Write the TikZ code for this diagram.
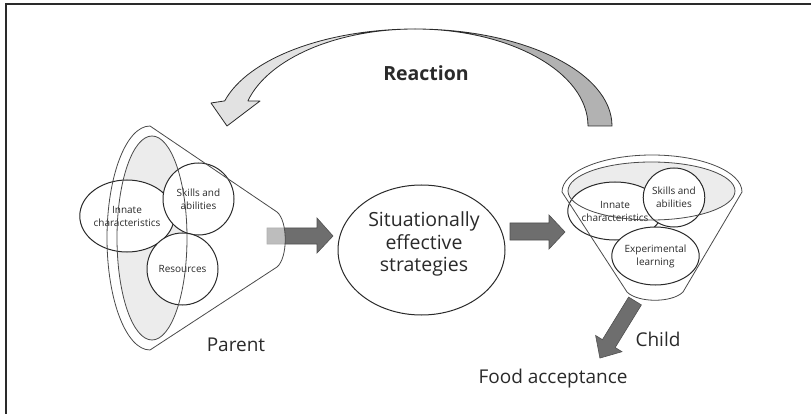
\documentclass[tikz,border=0pt]{standalone}
\usepackage{fontspec}
\setmainfont{Open Sans}
\usetikzlibrary{shapes.geometric}
\pgfdeclarelayer{edgelayer}
\pgfdeclarelayer{nodelayer}
\pgfsetlayers{edgelayer,nodelayer,main}
\definecolor{ink}{HTML}{2A2A2A}
\definecolor{rimgray}{HTML}{4A4A4A}
\definecolor{softgray}{HTML}{ECECEC}
\definecolor{arrowgray}{HTML}{6E6E6E}
\definecolor{arrowedge}{HTML}{505050}
\definecolor{lightribbon}{HTML}{E2E2E2}
\definecolor{darkribbon}{HTML}{B2B2B2}
\tikzstyle{bubble}=[ellipse,draw=ink,line width=1pt,fill=white,inner sep=0pt,align=center,text=ink,font=\fontsize{10}{13}\selectfont]
\tikzstyle{bigbubble}=[ellipse,draw=ink,line width=1pt,fill=white,minimum width=167pt,minimum height=130pt]
\tikzstyle{blockarrow}=[fill=arrowgray,draw=arrowedge,line width=0.6pt]
\tikzstyle{rim}=[draw=rimgray,line width=0.8pt]
\tikzstyle{captiontext}=[text=ink,inner sep=0pt,font=\fontsize{19}{22}\selectfont]
\tikzstyle{reactfront}=[fill=lightribbon,draw=ink,line width=0.8pt,line join=round]
\tikzstyle{reactback}=[fill=darkribbon,draw=ink,line width=0.8pt,line join=round]

\begin{document}
\begin{tikzpicture}[x=1pt,y=-1pt]
	\useasboundingbox (0,0) rectangle (811,414);
	\draw [draw=ink, line width=1.5pt] (6,414) -- (6,4) -- (811,4);
	\begin{pgfonlayer}{edgelayer}
		% reaction ribbon, back and front
		\draw [style=reactback] (612,126) arc[start angle=0, end angle=-90, x radius=197, y radius=97] arc[start angle=-90, end angle=0, x radius=173, y radius=97] -- cycle;
		\draw [style=reactfront] (415,29) arc[start angle=-90, end angle=-165, x radius=197, y radius=97] -- (211,103) -- (227,126) -- (260,101) -- (247.9,100.9) arc[start angle=-165, end angle=-90, x radius=173, y radius=97] -- cycle;
		\draw [style=blockarrow] (267,228) -- (317,228) -- (317,218) -- (333,236) -- (317,253) -- (317,244) -- (267,244) -- cycle;
		\draw [style=blockarrow] (510,223) -- (549,223) -- (549,215) -- (565,232) -- (549,249) -- (549,240) -- (510,240) -- cycle;
		\begin{scope}[shift={(635,301)}, rotate=-121.6]
			\draw [style=blockarrow] (0,-7.5) -- (50,-7.5) -- (50,-15.5) -- (67,0) -- (50,15.5) -- (50,7.5) -- (0,7.5) -- cycle;
		\end{scope}
	\end{pgfonlayer}
	\begin{pgfonlayer}{nodelayer}
		% parent
		\fill [white, opacity=0.55] (277,212) -- (150,126) arc[start angle=-90, end angle=-270, x radius=43, y radius=112] -- (277,267) .. controls (288,258) and (288,221) .. (277,212) -- cycle;
		\fill [softgray] (152,238) ellipse [x radius=35, y radius=102];
		\node [style=bubble, minimum width=83pt, minimum height=72pt] (pin) at (127,216) {Innate\\characteristics};
		\node [style=bubble, minimum width=71pt, minimum height=72pt] (psk) at (198.5,199) {Skills and\\abilities};
		\node [style=bubble, minimum width=71pt, minimum height=72pt] (pres) at (182.5,269) {Resources};
		% child
		\fill [white] (562,192) arc[start angle=180, end angle=360, x radius=90, y radius=37] -- (683,292) .. controls (672,303) and (638,303) .. (627,292) -- cycle;
		\fill [softgray] (651.5,191) ellipse [x radius=83.5, y radius=29];
		\node [style=bubble, minimum width=80pt, minimum height=58pt] (cin) at (615,211) {Innate\\characteristics};
		\node [style=bubble, minimum width=58pt, minimum height=59pt] (csk) at (674,197.5) {Skills and\\abilities};
		\node [style=bubble, minimum width=65pt, minimum height=58pt] (cexp) at (655.5,256) {Experimental\\learning};
	\end{pgfonlayer}
	\draw [style=rim] (152,238) ellipse [x radius=35, y radius=102];
	\draw [style=rim] (277,212) -- (150,126) arc[start angle=-90, end angle=-270, x radius=43, y radius=112] -- (277,267) .. controls (288,258) and (288,221) .. (277,212);
	\draw [style=rim] (651.5,191) ellipse [x radius=83.5, y radius=29];
	\draw [style=rim] (562,192) arc[start angle=180, end angle=360, x radius=90, y radius=37] -- (683,292) .. controls (672,303) and (638,303) .. (627,292) -- cycle;
	\node [style=bigbubble] (mid) at (421.5,250) {};
	\node [style=captiontext, align=center, font=\fontsize{19.5}{22.5}\selectfont] (midtext) at (424,244) {Situationally\\effective\\strategies};
	\node [style=captiontext, font=\bfseries\fontsize{19.5}{22}\selectfont] (react) at (426,73) {Reaction};
	\node [style=captiontext] (parent) at (236,345) {Parent};
	\node [style=captiontext] (child) at (658,339) {Child};
	\node [style=captiontext] (food) at (553,379) {Food acceptance};
\end{tikzpicture}
\end{document}
